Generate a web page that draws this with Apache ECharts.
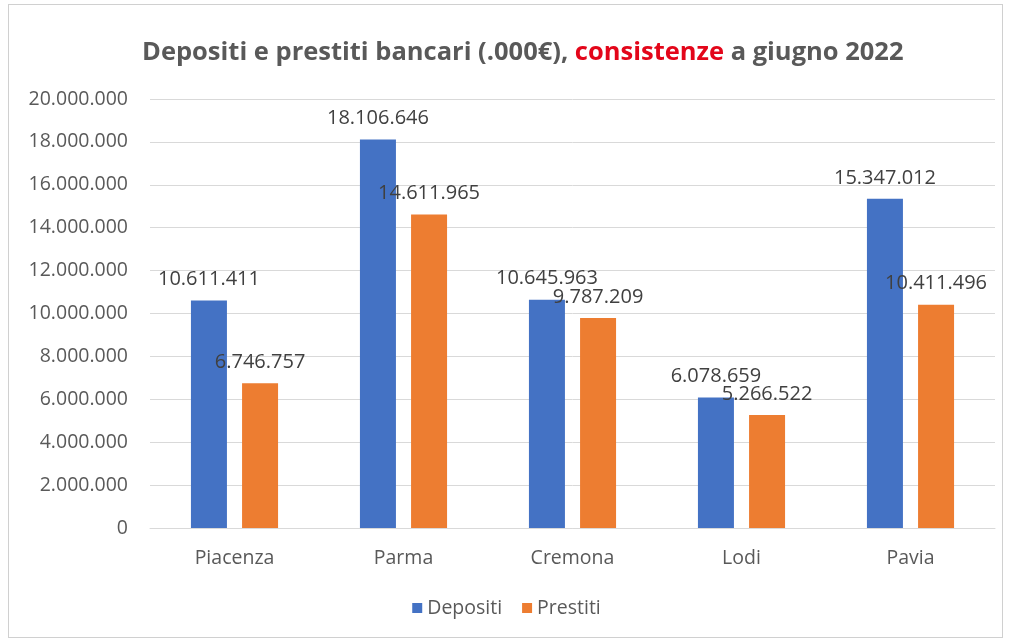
<!DOCTYPE html>
<html><head><meta charset="utf-8">
<script src="https://cdn.jsdelivr.net/npm/echarts@6/dist/echarts.min.js"></script>
<style>
html,body{margin:0;padding:0;background:#fff;}
#frame{position:absolute;left:8px;top:4px;width:995px;height:634px;border:1px solid #d0d0d0;box-sizing:border-box;}
#c{position:absolute;left:0;top:0;width:1013px;height:642px;}
</style></head>
<body>
<div id="frame"></div>
<div id="c"></div>
<script>
const categories = ['Piacenza', 'Parma', 'Cremona', 'Lodi', 'Pavia'];
const depositi = [10611411, 18106646, 10645963, 6078659, 15347012];
const prestiti = [6746757, 14611965, 9787209, 5266522, 10411496];
const seriesNames = ['Depositi', 'Prestiti'];

function fmt(v){ return String(Math.round(v)).replace(/\B(?=(\d{3})+(?!\d))/g, '.'); }

const chart = echarts.init(document.getElementById('c'), null, {renderer:'canvas'});
const font = '"Open Sans", "Noto Sans", sans-serif';
const labelStyle = {show:true, position:'top', distance:11, color:'#404040', fontSize:20, fontFamily:font, formatter: p => fmt(p.value)};
chart.setOption({
  animation:false,
  backgroundColor:'transparent',
  title:{
    left:137, top:35,
    text:'{g|Depositi e prestiti bancari (.000€), }{r|consistenze}{g| a giugno 2022}',
    textStyle:{
      rich:{
        g:{color:'#595959', fontSize:25.5, fontWeight:'bold', fontFamily:font},
        r:{color:'#e3061a', fontSize:25.5, fontWeight:'bold', fontFamily:font}
      }
    }
  },
  legend:{
    bottom:19, left:'center', itemWidth:10, itemHeight:10, itemGap:20,
    icon:'rect',
    textStyle:{color:'#595959', fontSize:19.5, fontFamily:font},
    data:seriesNames
  },
  grid:{left:150, right:18, top:99, bottom:114},
  xAxis:{
    type:'category', data:categories,
    axisLine:{lineStyle:{color:'#d9d9d9', width:1}},
    axisTick:{show:false},
    axisLabel:{color:'#595959', fontSize:19.5, fontFamily:font, margin:20}
  },
  yAxis:{
    type:'value', min:0, max:20000000, interval:2000000,
    axisLine:{show:false}, axisTick:{show:false},
    splitLine:{lineStyle:{color:'#d9d9d9', width:1}},
    axisLabel:{color:'#595959', fontSize:19.5, fontFamily:font, margin:22, formatter: v => fmt(v)}
  },
  series:[
    {name:seriesNames[0], type:'bar', data:depositi, barWidth:36, barGap:'42%', itemStyle:{color:'#4472c4'}, label:labelStyle},
    {name:seriesNames[1], type:'bar', data:prestiti, barWidth:36, itemStyle:{color:'#ed7d31'}, label:labelStyle}
  ]
});
</script>
</body></html>
